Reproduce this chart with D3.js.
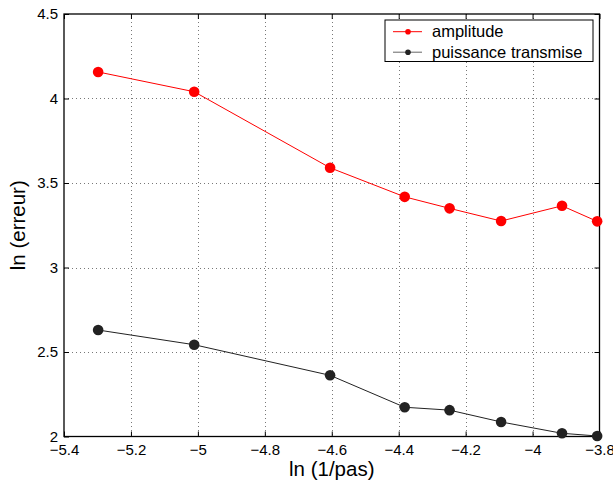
<!DOCTYPE html>
<html>
<meta charset="utf-8">
<style>
    body { margin: 0; background: #fff; }
    text { font-family: "Liberation Sans", Arial, sans-serif; fill: #000; }
    .grid line { stroke: #555; stroke-width: 0.8px; stroke-dasharray: 1,3; }
    .tick text { font-size: 15px; }
</style>
<body>
<script src="https://d3js.org/d3.v7.min.js"></script>
<script>

    var width = 613,
        height = 484;

    var margin = { left: 64, right: 14, top: 14, bottom: 48 };

    // ln(1/pas)
    var xValues = [-5.298, -5.011, -4.605, -4.382, -4.248, -4.094, -3.912, -3.807];
    var amplitude = [4.157, 4.040, 3.590, 3.418, 3.350, 3.275, 3.365, 3.273];
    var puissance = [2.630, 2.543, 2.362, 2.173, 2.156, 2.086, 2.019, 2.003];

    var xTicks = [-5.4, -5.2, -5, -4.8, -4.6, -4.4, -4.2, -4, -3.8];
    var yTicks = [2, 2.5, 3, 3.5, 4, 4.5];

    var seriesNames = ["amplitude", "puissance transmise"];
    var seriesColors = ["#ff0000", "#222222"];

    var x = d3.scaleLinear()
        .domain([-5.4, -3.8])
        .range([margin.left, width - margin.right + 0.5]);

    var y = d3.scaleLinear()
        .domain([2, 4.5])
        .range([height - margin.bottom + 0.5, margin.top]);

    var fmt = function (d) { return d3.format("")(d).replace("-", "\u2013"); };

    var svg = d3.select("body").append("svg")
        .attr("width", width)
        .attr("height", height);

    var x0 = x.range()[0], x1 = x.range()[1],
        y0 = y.range()[0], y1 = y.range()[1];

    // dotted grid
    var grid = svg.append("g").attr("class", "grid");
    grid.selectAll(".gx")
        .data(xTicks.slice(1, -1))
        .enter().append("line")
        .attr("x1", function (d) { return Math.round(x(d)) + 0.5; })
        .attr("x2", function (d) { return Math.round(x(d)) + 0.5; })
        .attr("y1", y1).attr("y2", y0);
    grid.selectAll(".gy")
        .data(yTicks.slice(1, -1))
        .enter().append("line")
        .attr("y1", function (d) { return Math.round(y(d)) + 0.5; })
        .attr("y2", function (d) { return Math.round(y(d)) + 0.5; })
        .attr("x1", x0).attr("x2", x1);

    // axes with inward ticks on all four sides
    svg.append("g")
        .attr("transform", "translate(0," + y0 + ")")
        .call(d3.axisBottom(x).tickValues(xTicks).tickFormat(fmt).tickSizeInner(-5).tickSizeOuter(0).tickPadding(8))
        .call(function (g) { g.select(".domain").remove(); });
    svg.append("g")
        .attr("transform", "translate(0," + y1 + ")")
        .call(d3.axisTop(x).tickValues(xTicks).tickFormat("").tickSizeInner(-5).tickSizeOuter(0))
        .call(function (g) { g.select(".domain").remove(); });
    svg.append("g")
        .attr("transform", "translate(" + x0 + ",0)")
        .call(d3.axisLeft(y).tickValues(yTicks).tickFormat(fmt).tickSizeInner(-5).tickSizeOuter(0).tickPadding(6))
        .call(function (g) { g.select(".domain").remove(); });
    svg.append("g")
        .attr("transform", "translate(" + x1 + ",0)")
        .call(d3.axisRight(y).tickValues(yTicks).tickFormat("").tickSizeInner(-5).tickSizeOuter(0))
        .call(function (g) { g.select(".domain").remove(); });

    svg.selectAll(".tick line").attr("stroke", "#000");

    svg.append("rect")
        .attr("x", x0).attr("y", y1)
        .attr("width", x1 - x0).attr("height", y0 - y1)
        .attr("fill", "none")
        .attr("stroke", "#000")
        .attr("stroke-width", 1.3);

    // data
    var line = d3.line()
        .x(function (d) { return x(d[0]); })
        .y(function (d) { return y(d[1]); });

    [amplitude, puissance].forEach(function (vals, i) {
        var pts = xValues.map(function (v, k) { return [v, vals[k]]; });
        svg.append("path")
            .datum(pts)
            .attr("fill", "none")
            .attr("stroke", seriesColors[i])
            .attr("stroke-width", 1)
            .attr("d", line);
        svg.selectAll(".pt" + i)
            .data(pts)
            .enter().append("circle")
            .attr("cx", function (d) { return x(d[0]); })
            .attr("cy", function (d) { return y(d[1]); })
            .attr("r", 5.3)
            .attr("fill", seriesColors[i]);
    });

    // axis titles
    svg.append("text")
        .attr("x", (x0 + x1) / 2)
        .attr("y", 476)
        .attr("text-anchor", "middle")
        .style("font-size", "20.5px")
        .text("ln (1/pas)");

    svg.append("text")
        .attr("transform", "translate(24.5," + ((y0 + y1) / 2) + ") rotate(-90)")
        .attr("text-anchor", "middle")
        .style("font-size", "20.5px")
        .text("ln (erreur)");

    // legend
    var legend = svg.append("g").attr("transform", "translate(385,20)");
    legend.append("rect")
        .attr("x", 0).attr("y", 0)
        .attr("width", 208).attr("height", 41.5)
        .attr("fill", "#fff")
        .attr("stroke", "#000")
        .attr("stroke-width", 1);
    seriesNames.forEach(function (name, i) {
        var ly = 11.7 + i * 20.5;
        legend.append("line")
            .attr("x1", 8).attr("x2", 37)
            .attr("y1", ly).attr("y2", ly)
            .attr("stroke", i === 0 ? seriesColors[0] : "#666")
            .attr("stroke-width", 1);
        legend.append("circle")
            .attr("cx", 23).attr("cy", ly)
            .attr("r", 2.8)
            .attr("fill", seriesColors[i]);
        legend.append("text")
            .attr("x", 47).attr("y", ly + 5.5)
            .style("font-size", "16.5px")
            .text(name);
    });

</script>
</body>
</html>
